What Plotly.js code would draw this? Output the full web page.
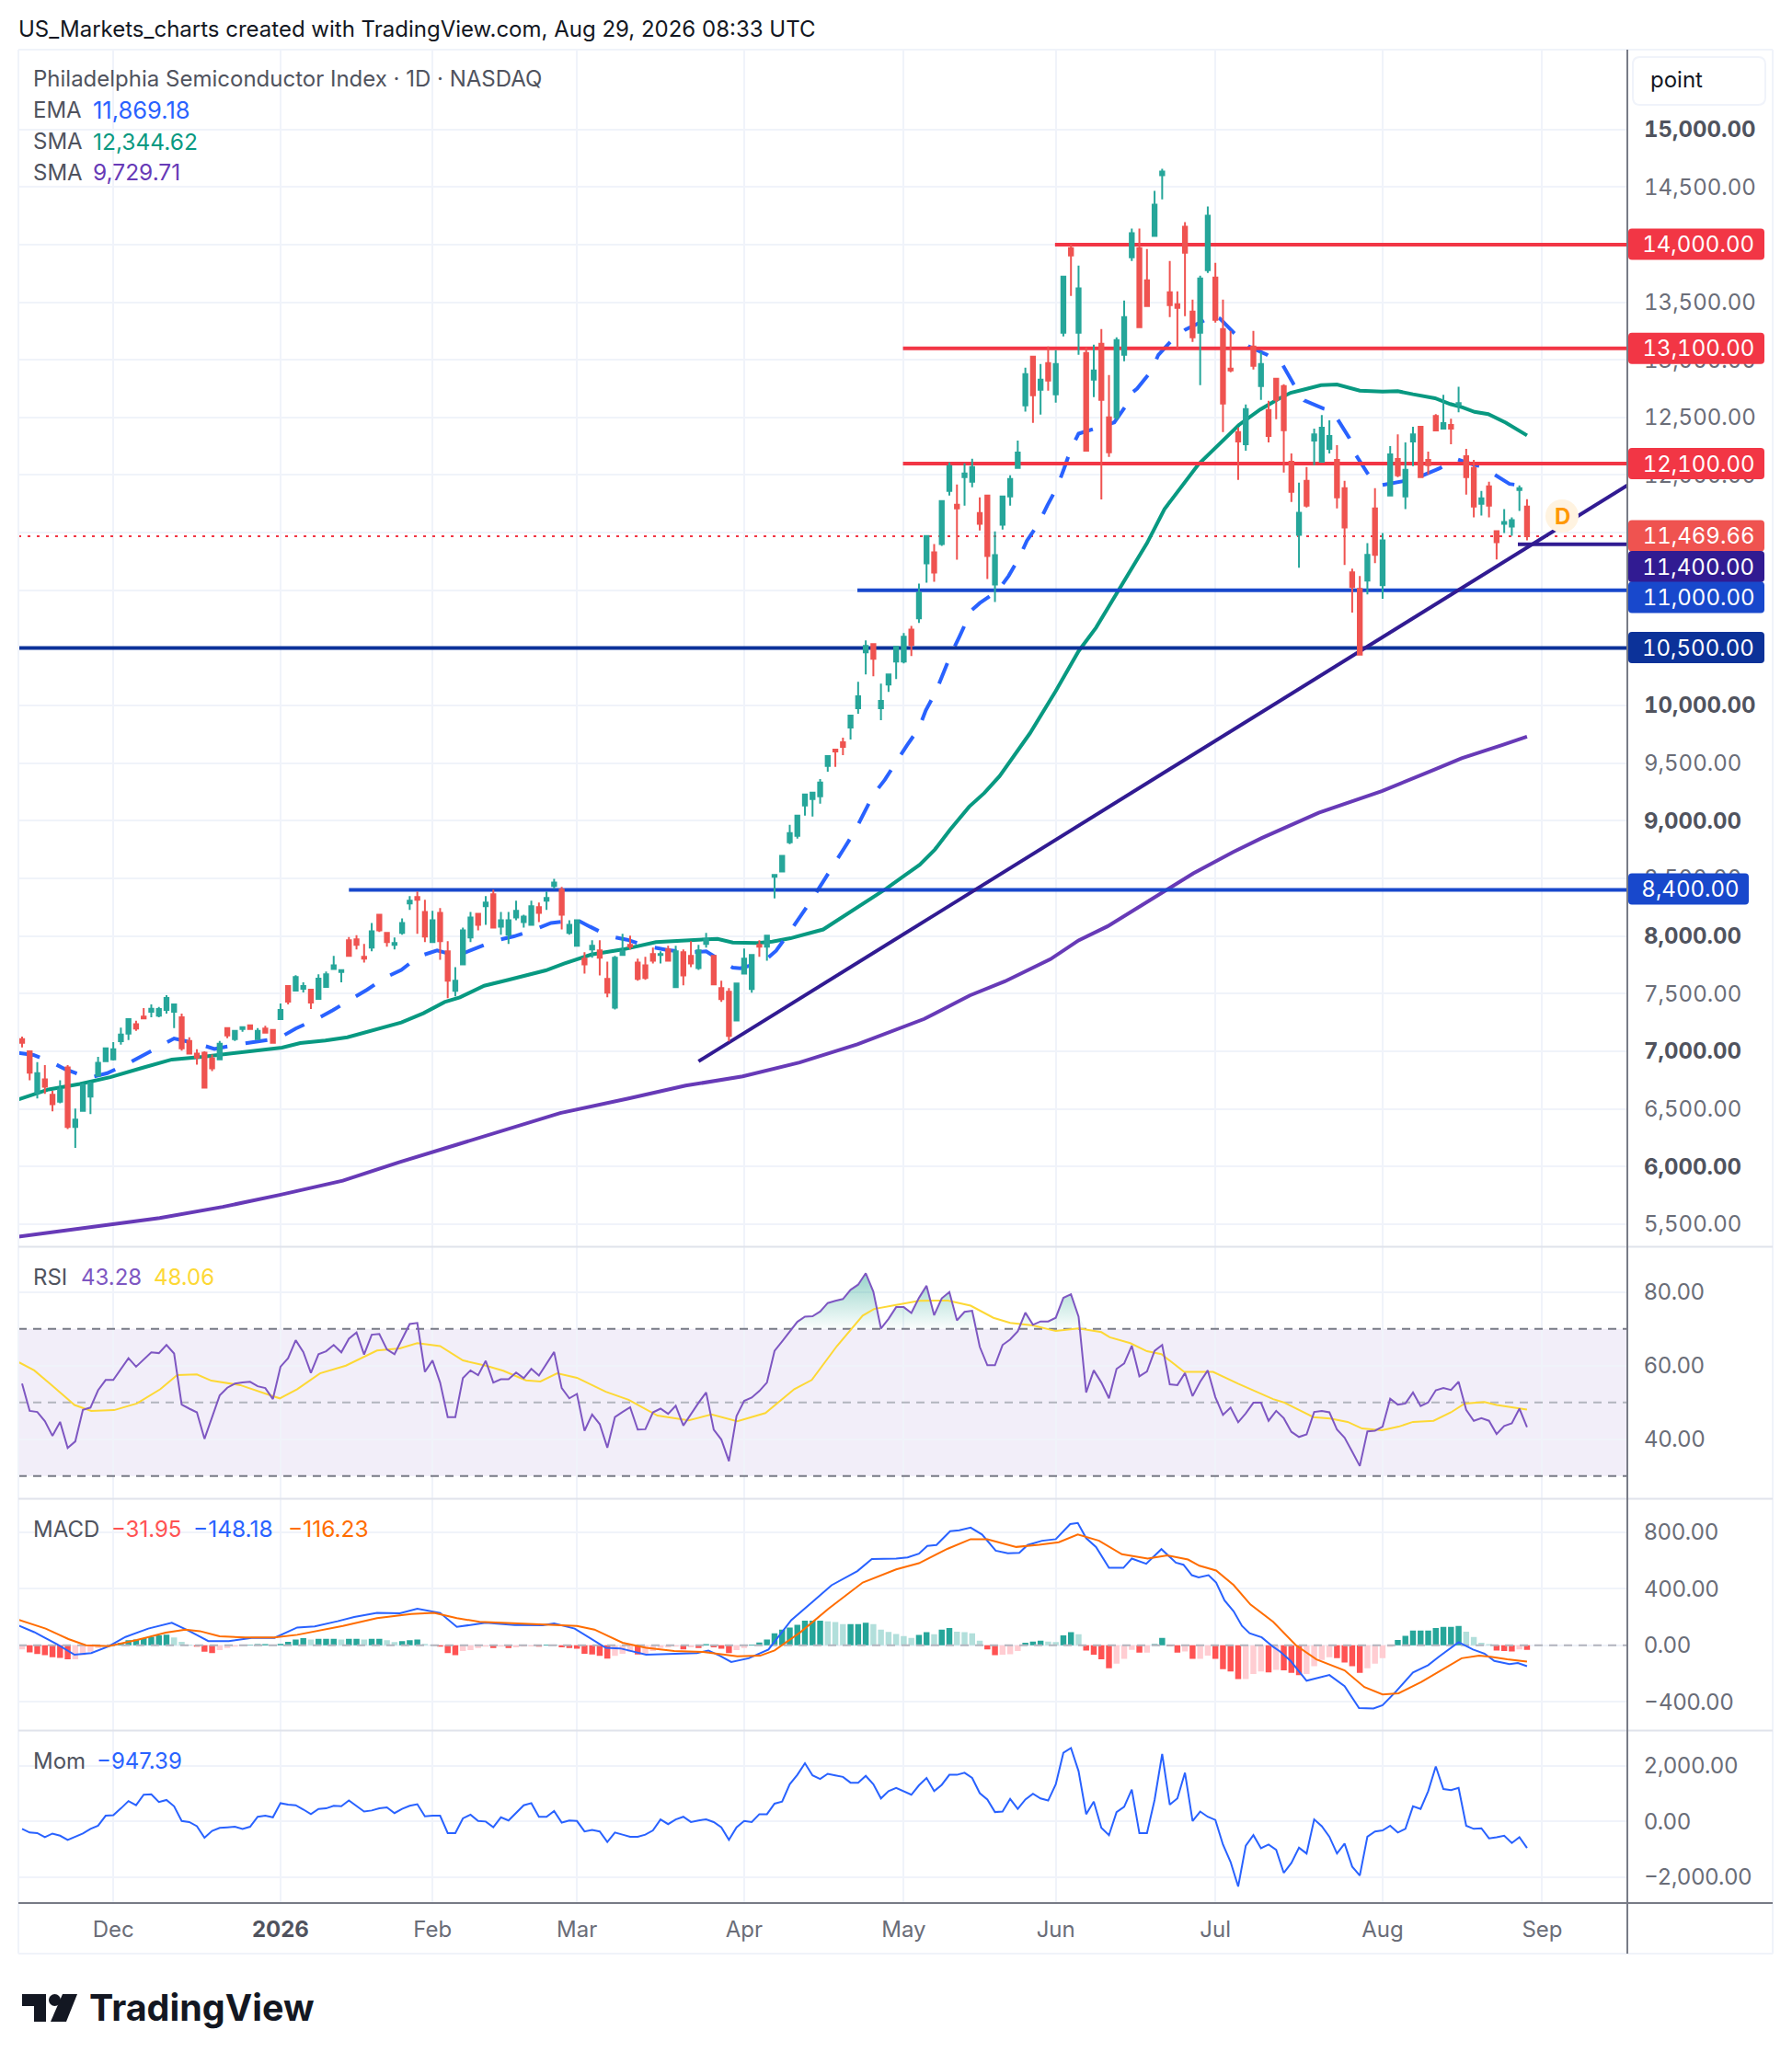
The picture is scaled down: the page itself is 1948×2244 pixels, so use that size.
<!DOCTYPE html>
<html><head><meta charset="utf-8">
<script src="https://cdn.plot.ly/plotly-3.0.1.min.js"></script>
<style>html,body{margin:0;padding:0;background:#fff}
.ytick text,.xtick text,.annotation[data-index="0"] text,.annotation[data-index="1"] text,.annotation[data-index="2"] text,.annotation[data-index="3"] text,.annotation[data-index="4"] text,.annotation[data-index="5"] text,.annotation[data-index="6"] text,.annotation[data-index="7"] text{font-variant-numeric:tabular-nums !important;font-feature-settings:"tnum" 1 !important}
</style></head>
<body><div id="chart" style="width:1948px;height:2244px"></div>
<script>
const open=[7106,7000,6638,6757,6622,6563,6860,6344,6484,6606,6788,6915,6931,7087,7153,7235,7302,7344,7310,7360,7344,7296,7090,6979,6987,6939,6931,7201,7106,7193,7225,7106,7198,7185,7280,7566,7526,7542,7534,7455,7558,7715,7689,
7963,7971,7819,7899,8186,8027,7923,8027,8282,8338,8210,7947,8202,7867,7524,7755,7987,8194,8258,8362,8082,8011,8162,8122,8098,8250,8306,8434,8402,8027,7915,7803,7883,7875,7628,7380,7835,7923,7771,7747,7843,7835,7883,7556,7859,7827,7723,7931,7827,7548,7516,7268,7675,7540,7923,7907,
8515,8560,8814,8870,9133,9188,9212,9475,9618,9682,9809,9976,10462,10533,9976,10183,10382,10382,10660,10756,11233,11329,11401,11862,11743,11981,11942,11671,11822,11050,11568,11814,12061,
12604,13027,12740,12971,12700,13235,13970,13235,13059,12828,13139,12500,12500,13043,13890,13970,13690,14074,14601,13587,13483,14154,13419,13235,13778,13714,13267,12923,12372,12268,13115,12772,12564,12836,12772,
12116,11481,11950,12299,12116,12227,12132,11886,11156,11013,11084,11711,11045,11823,12140,11815,12291,12418,12132,12513,12402,12434,12608,12164,12061,11751,11902,11513,11577,11553,11870,11727];
const close=[7074,6815,6810,6693,6542,6669,6344,6407,6709,6722,6900,7026,7018,7146,7280,7198,7286,7370,7368,7463,7407,7026,6979,6947,6685,6852,7066,7138,7177,7209,7193,7177,7161,7074,7360,7431,7645,7566,7423,7630,7669,7747,7705,
7827,7923,7803,8042,8050,7947,7939,8114,8306,8314,7995,8138,7955,7612,7612,8050,8162,8098,8290,8074,8138,8138,8218,8170,8258,8202,8330,8465,8186,8098,8138,7755,7915,7811,7508,7811,7867,7907,7628,7636,7787,7843,7787,7867,7659,7763,7875,7971,7580,7452,7133,7588,7803,7835,7907,8003,
8530,8695,8894,9045,9228,9244,9332,9562,9602,9642,9912,10080,10517,10406,10040,10271,10509,10597,10525,10979,11472,11154,11775,12077,11711,12013,12069,11576,11297,11305,11814,11966,12196,
12876,12692,12828,12820,12963,13722,13906,13619,12212,12907,12652,12197,13171,13371,14098,13283,13467,14346,14633,13475,13451,13930,13195,13706,14250,13347,12620,12907,12292,12572,12947,12963,12340,12652,12388,
11854,11672,11735,12354,12410,12339,11807,11545,11029,10441,11307,11307,11434,12180,11997,12045,12354,11981,12085,12386,12450,12402,12624,11981,11727,11799,11735,11418,11592,11608,11886,11469.66];
const high=[7127,7000,6907,6881,6656,6749,6881,6503,6722,6735,6952,7026,7079,7206,7280,7265,7376,7407,7384,7487,7415,7328,7122,7018,7000,6971,7090,7201,7185,7209,7233,7201,7222,7193,7415,7574,7661,7598,7542,7669,7693,7827,7705,
7992,8008,7931,8114,8186,8035,7987,8154,8346,8386,8314,8218,8242,7955,7731,8074,8210,8202,8346,8402,8210,8210,8306,8186,8306,8290,8386,8497,8426,8138,8146,7859,7963,7963,7779,7827,8019,8003,7803,7819,7899,7867,7915,7915,7883,7955,7923,8027,7835,7612,7548,7588,7891,7843,7963,8011,
8530,8700,8966,9053,9228,9252,9363,9562,9618,9721,9920,10207,10565,10541,10191,10279,10517,10629,10692,11058,11472,11401,11775,12109,11918,12101,12141,11806,11822,11512,11814,11997,12300,
12931,13035,12963,13115,13083,13730,14002,13818,13107,13131,13267,12868,13195,13515,14138,14138,13962,14465,14657,13858,13595,14194,13523,13730,14330,13842,13523,13251,12412,12612,13251,13067,12644,12844,12788,
12188,11934,12069,12402,12521,12474,12259,11950,11188,11124,11410,11886,11497,12251,12354,12283,12418,12426,12204,12529,12696,12489,12767,12227,12132,11862,11942,11513,11704,11632,11910,11791];
const low=[7034,6749,6590,6630,6479,6550,6325,6161,6479,6455,6783,6910,6921,7058,7098,7177,7283,7296,7296,7328,7201,7005,6974,6884,6677,6828,6931,7114,7090,7169,7185,7098,7161,7074,7280,7407,7519,7511,7368,7455,7558,7715,7598,
7827,7883,7771,7867,8035,7907,7883,8011,8226,8019,7947,7947,7795,7460,7476,7755,7947,8050,8098,8074,8011,7931,8138,8074,8098,8122,8226,8410,8058,8011,7907,7675,7811,7659,7468,7364,7835,7883,7612,7620,7763,7763,7787,7548,7572,7731,7707,7899,7580,7428,7085,7268,7675,7508,7819,7787,
8326,8552,8798,8846,9045,9037,9148,9427,9467,9570,9706,9928,10271,10255,9873,10119,10231,10366,10430,10716,11066,11074,11385,11822,11265,11735,11894,11520,11098,10899,11528,11735,12061,
12551,12452,12524,12732,12628,13203,13555,13043,12212,12676,11789,12157,12476,12987,13858,13283,13467,14066,14393,13371,13099,13379,13155,12780,13754,13323,12372,12892,11957,12212,12915,12652,12284,12484,12021,
11767,11196,11719,12085,12108,12188,11711,11219,10807,10441,10965,11235,10926,11823,11981,11704,12077,11981,12005,12378,12394,12267,12545,11831,11632,11648,11632,11267,11497,11473,11688,11434];

const emaX=[-0.5,1.5,4,5.6,8.8,11.2,13.8,16,18.5,20,23.5,25.3,28.6,31.2,33.8,36,38.6,40.9,43.3,45.4,47.7,49.9,52.2,54.6,57.2,59.5,62.2,64.7,67.3,69.6,72.1,73.1,74.7,77.2,79.6,82.2,84.8,87.7,90,92.4,93.5,94.5,97.5,99.2,100.9,104,105.3,106.8,108.1,109.6,110.7,112,113.5,115,116.4,118,118.9,120.2,121.2,122.2,123.3,124.5,124.9,126,128.4,129.8,131.2,132.2,133.8,134.9,136.2,137.1,138,139,142,143.7,145.4,146,146.7,148.5,149.5,151.3,153.1,155.6,156.4,157.6,159.5,161.3,163.8,165.9,167.3,168.7,171.2,172.2,173.1,174.6,175.5,177,177.8,178.9,181.7,182.7,183.9,186.5,188.7,191.1,192.2,193.4,195.7,196.8,198];
const emaY=[6987,6968,6902,6847,6770,6810,6889,6968,7053,7111,7058,7021,7061,7090,7114,7198,7275,7357,7450,7535,7638,7706,7824,7875,7828,7890,7960,7997,8053,8114,8133,8138,8082,8000,7968,7912,7880,7859,7867,7774,7726,7721,7774,7872,8027,8326,8459,8618,8756,8915,9056,9228,9355,9512,9653,9804,9958,10117,10276,10443,10594,10761,10825,10889,10997,11125,11284,11430,11587,11738,11898,12058,12226,12359,12418,12457,12617,12713,12750,12897,13043,13171,13264,13344,13398,13358,13230,13118,13043,12950,12788,12648,12577,12561,12481,12323,12172,12018,11955,11913,11947,11979,11987,12058,12140,12087,12074,12018,11923,11913,11869];
const sma50X=[-0.5,3.5,7.6,11.6,15.7,19.7,23.7,27.8,31.8,34.2,36.6,39.9,42.8,45.7,49.9,52.8,55.6,57.6,60.8,64,68.9,71.3,74.9,79,83.4,86.7,90.3,91.5,93.5,96.7,98.7,101.1,105.4,109.9,113.7,116.1,118.1,120.1,122.1,124.6,126.6,128.6,130.2,132.6,136,139,141.3,144.3,148,150.3,154.8,160.1,162.9,165.3,166.9,168.9,170.9,173,174.6,176,179,181,183,185.9,187.9,189.5,191.1,192.9,195.2,196.4,198];
const sma50Y=[6582,6669,6717,6775,6854,6929,6952,6984,7019,7032,7071,7093,7122,7172,7250,7330,7428,7468,7569,7620,7702,7761,7840,7883,7947,7960,7973,7976,7944,7939,7952,7981,8057,8250,8411,8525,8618,8751,8923,9122,9241,9387,9533,9759,10126,10472,10676,11002,11409,11704,12096,12435,12569,12661,12714,12746,12780,12786,12762,12733,12725,12728,12701,12667,12616,12587,12548,12529,12455,12405,12344];
const sma200X=[-0.5,6.9,12.1,18.1,26.4,33.9,42.2,49.7,57.2,64.7,70.8,79.8,87.3,94.8,102.3,109.9,115,118.7,124.7,129.3,135.3,139,142.8,148,154.1,159.3,163.1,170.6,175.1,178.9,185.7,189.4,194.7,198];
const sma200Y=[5392,5453,5496,5553,5650,5754,5878,6039,6190,6340,6464,6591,6702,6782,6903,7060,7188,7281,7485,7607,7799,7962,8084,8292,8544,8728,8850,9070,9176,9258,9441,9543,9657,9730];

const levelValues=[14000,13100,12100,11000,10500,8400,11400];
const levelStarts=[135.9,115.9,115.9,109.9,-0.5,43,196.8];
const levelColors=['#f23645','#f23645','#f23645','#1848cc','#0c3299','#1848cc','#311b92'];
const trendX=[89,211.2];
const trendY=[6913,11910];
const lastPrice=11469.66;

const rsi=[55.1,47.7,47.4,44.9,40.9,44.7,37.6,39.4,48,48.6,53.3,56.1,56.1,59,62,59.7,61.6,63.6,63.4,65.6,63.3,49.4,48.3,47.3,40.1,46.1,51.9,54,55.1,55.4,55.6,54.4,53.9,50.9,59.7,62,66.9,63.7,58,63.1,63.9,65.6,63.6,67.3,69,63,68.4,68.6,64.4,63.1,67.3,71.3,71.6,58.3,61.4,55.4,46,46,56.6,58.7,57.4,61.3,55.4,56.3,56.3,58.1,56.6,59.1,57.3,60.6,63.7,53.9,51.1,52.3,42.3,46.7,44.1,37.7,46,47.4,48.7,42.6,42.7,47.3,48.3,46.9,49.1,43.7,46.9,49.9,52.7,42.6,39.9,34,46.3,50.4,51.3,53.1,55.4,64,66.6,69.4,71.9,73.3,73.4,74.7,77,77.6,78.1,80.6,82,85.1,80.1,70.1,72.7,75.9,75.9,74.3,78.4,81.7,73.7,78.3,80,72.3,74.6,74.9,65.1,60.1,60.1,65.6,67.1,69.3,74.4,71.1,72,72,73,78.4,79.4,73.3,52.7,58.7,55.4,51.1,59.1,60.6,65.4,57.1,58.4,64,65.6,54.9,54.7,58,51.7,55.6,58.7,51.4,46.6,48.6,44.6,47,49.9,49.9,45,47.7,45.7,42,40.6,41.3,47.4,47.7,47.3,42.6,40.4,36.6,32.7,42.1,42.3,43.4,51,49.4,49.7,52.7,49,50,53.3,53.9,53.4,55.6,48,45,45.7,45,41.4,43.6,44.3,48.3,43.28];
const rsiMaX=[-0.5,1.6,3.9,6.9,9.1,12.1,15.1,18.2,20.4,23,24.9,28.7,32.4,33.9,36.2,39.2,42.6,46.7,49.7,52,55,58,61,63.3,66.3,68.2,70.4,73,76.8,79.8,83.6,87.7,90.7,94.1,97.8,101.6,103.9,107.2,110.6,112.1,115,118,121.8,124.8,127.8,130,133,136,139,142,143.1,145.8,148,149.9,152.9,156.7,160,161.9,164.6,166,169.9,172.1,174.4,176.3,178.9,181.1,183,185.7,188,189.8,192.4,194,198];
const rsiMaY=[61,58.7,54.7,49.3,47.7,47.9,49.7,53.6,57.4,57.6,55.9,54.7,52.1,51.1,53.6,57.9,60,64.1,64.7,66.1,65.3,61.4,60,58.6,56,55.7,57.9,56.7,52.9,50.7,46.4,45.1,46.7,44.9,47.1,53.6,56.1,65.3,73.6,75.4,76.5,77.6,77.7,76.3,73,71.6,70.9,69.4,70.1,69.1,67.7,66.1,63.9,63.1,58.3,58.3,55.1,53.4,50.9,50,46,45.6,44.7,42.9,42.4,43.4,44.7,45,47.3,49.7,50.1,49.3,48.06];

const macdHist=[-30,-50,-62,-70,-85,-90,-100,-100,-70,-45,-20,-5,5,18,35,40,50,60,70,75,55,25,5,-10,-45,-55,-35,-20,-10,-5,3,8,8,5,10,25,40,50,40,45,45,45,40,45,45,40,45,45,35,22,30,35,40,10,5,-10,-55,-70,-40,-35,-20,-10,-20,-10,-20,-15,-10,-8,-10,5,5,-15,-20,-25,-60,-65,-75,-95,-75,-60,-45,-65,-60,-40,-20,-15,-10,-30,-15,-20,8,-15,-25,-55,-35,-20,5,20,40,85,110,125,145,174,174,174,170,165,150,150,150,160,150,110,95,80,65,52,74,92,78,111,122,96,92,85,33,-30,-70,-67,-63,-40,18,26,33,26,22,70,92,78,-37,-67,-100,-163,-130,-96,-33,-52,-52,8,52,-7,-52,-44,-96,-96,-74,-96,-170,-185,-240,-240,-204,-185,-192,-174,-178,-196,-211,-204,-148,-104,-85,-92,-122,-148,-196,-163,-130,-92,-11,37,67,104,104,104,122,130,130,137,96,59,18,8,-37,-40,-44,-30,-31.95];
const macdX=[-0.5,1.6,4.6,6.9,9.1,11.4,13.6,16.6,19.7,21.9,24.5,27.2,30.2,33.2,36.2,38.5,41.5,43.7,46.7,49.7,52,55,57.2,61,64.8,68.5,70,72.7,76.8,78.7,82.1,85.8,88.8,90.3,91.8,93.3,95.6,98.2,101.2,103.9,106.5,109.9,111.8,115,116.5,118,119.1,120.3,122.1,123.3,124.8,126.3,128.1,129.7,131.2,132.3,134.2,136,137.9,138.9,140,141.3,143,144.9,146,147.9,149.9,151.8,152.8,153.9,154.8,156.1,157.1,158.2,159.4,160.5,161.5,163.1,164.6,165.5,166.9,169,170.3,172,174,175.9,177.8,179,180.8,183,185,186.4,189,190.9,192.4,193.7,195.7,196.8,198];
const macdY=[141,93,7,-67,-55,-7,59,118,159,104,30,30,52,52,126,133,170,200,229,226,259,229,130,159,144,141,155,118,-18,-22,-67,-59,-55,-37,-74,-118,-92,-30,178,303,425,525,610,614,622,648,703,710,807,814,833,784,670,651,655,710,740,751,858,866,758,695,548,548,614,577,681,585,570,496,481,496,444,318,241,137,85,56,-11,-44,-111,-251,-233,-211,-289,-444,-448,-425,-325,-192,-141,-81,22,-30,-59,-111,-133,-126,-148.18];
const signalX=[-0.5,3.1,6.1,8.4,11.4,15.1,18.9,21.5,23.4,26,29.4,33.2,36.2,42.2,46.7,51.2,54.2,57.2,60.2,64.8,69.3,73,75.3,79,82.1,85.8,89.6,94.1,97.1,99,102.4,106.1,110.6,115,118,121.8,124.8,127,130.8,133.8,136.4,138.9,141.7,144.7,148.1,150.7,153.4,154.9,157.1,159.4,161.6,164.6,167.6,170.3,174,176.6,179,181.1,184.1,187.1,189.4,191.7,193.2,195.4,198];
const signalY=[181,118,44,0,-7,37,89,111,100,63,55,55,74,137,192,222,229,192,166,155,148,137,111,18,-18,-41,-48,-78,-74,-37,92,259,444,537,581,684,751,751,696,711,729,784,740,644,614,636,607,563,529,426,289,166,0,-100,-178,-296,-348,-340,-259,-166,-92,-74,-81,-100,-116.23];

const mom=[-263,-395,-414,-564,-432,-508,-658,-545,-432,-263,-150,207,226,470,733,583,959,978,696,771,545,19,-19,-169,-583,-338,-226,-207,-188,-263,-188,169,207,150,658,602,583,432,263,451,470,564,545,752,545,357,395,470,508,301,451,564,620,188,207,207,-414,-414,113,244,19,0,-207,150,38,301,583,658,169,169,376,-38,38,19,-357,-301,-357,-733,-395,-470,-545,-545,-470,-320,75,-94,75,169,-19,38,75,-19,-207,-658,-207,19,-19,263,263,639,714,1335,1673,2087,1654,1523,1711,1654,1598,1391,1391,1636,1335,827,1090,1203,1090,959,1297,1560,1090,1316,1673,1673,1748,1560,1015,790,338,357,808,451,790,996,827,752,1335,2463,2632,1805,263,714,-226,-489,338,526,1147,-414,-414,771,2425,602,827,1748,19,357,169,56,-827,-1448,-2331,-865,-489,-959,-827,-1015,-1842,-1485,-940,-1147,75,-169,-545,-1147,-790,-1617,-1936,-545,-357,-320,-150,-395,-263,545,451,1090,1974,1166,1128,1203,-150,-263,-244,-602,-564,-508,-771,-564,-947.39];

const monthTicks=[12,34,54,73,95,116,136,157,179,200];
const monthLabels=['Dec','<b><span style="color:#50535e">2026</span></b>','Feb','Mar','Apr','May','Jun','Jul','Aug','Sep'];
const priceTicks=[5500,6000,6500,7000,7500,8000,8500,9000,9500,10000,10500,11000,11500,12000,12500,13000,13500,14000,14500,15000];
const boldTicks=[6000,7000,8000,9000,10000,15000];
const coveredTicks=[10500,11000,11500,14000];
const rsiTicks=[40,60,80];
const macdTicks=[-400,0,400,800];
const momTicks=[-2000,0,2000];
const axisRight=211.2, axisLeft=-0.484;

const bars=open.map((_,i)=>i);
const fmt=v=>(v<0?'\u2212':'')+Math.abs(v).toLocaleString('en-US',{minimumFractionDigits:2,maximumFractionDigits:2});
const fx=p=>p/1948, fy=p=>1-p/2244;
const UP='#26a69a',DOWN='#ef5350',GRID='#f0f3fa',SEP='#e0e3eb',AX='#787b86';
const FONT='Inter, sans-serif';

const traces=[];
traces.push({x:[axisLeft,axisRight],y:[lastPrice,lastPrice],xaxis:'x',yaxis:'y',mode:'lines',line:{color:'#f23645',width:2,dash:'3px,7px'}});
traces.push({x:sma200X,y:sma200Y,xaxis:'x',yaxis:'y',mode:'lines',line:{color:'#673ab7',width:4}});
traces.push({x:sma50X,y:sma50Y,xaxis:'x',yaxis:'y',mode:'lines',line:{color:'#089981',width:4}});
traces.push({x:emaX,y:emaY,xaxis:'x',yaxis:'y',mode:'lines',line:{color:'#2962ff',width:4,dash:'24px,20px'}});
levelValues.forEach((v,k)=>traces.push({x:[levelStarts[k],axisRight],y:[v,v],xaxis:'x',yaxis:'y',mode:'lines',line:{color:levelColors[k],width:4}}));
traces.push({x:trendX,y:trendY,xaxis:'x',yaxis:'y',mode:'lines',line:{color:'#311b92',width:4}});
traces.push({type:'candlestick',x:bars,open:open,high:high,low:low,close:close,xaxis:'x5',yaxis:'y5',
  increasing:{line:{color:UP,width:2},fillcolor:UP},decreasing:{line:{color:DOWN,width:2},fillcolor:DOWN},whiskerwidth:0});
const obIdx=bars.filter(i=>i>=99&&i<=140);
traces.push({x:obIdx,y:obIdx.map(()=>70),xaxis:'x2',yaxis:'y2',mode:'lines',line:{width:0,color:'rgba(0,0,0,0)'}});
traces.push({x:obIdx,y:obIdx.map(i=>Math.max(rsi[i],70)),xaxis:'x2',yaxis:'y2',mode:'lines',line:{width:0,color:'rgba(0,0,0,0)'},fill:'tonexty',
  fillgradient:{type:'vertical',colorscale:[[0,'rgba(8,153,129,0.02)'],[1,'rgba(8,153,129,0.42)']]}});
[[70,AX],[30,AX],[50,'#b2b5be']].forEach(l=>traces.push({x:[axisLeft,axisRight],y:[l[0],l[0]],xaxis:'x2',yaxis:'y2',mode:'lines',line:{color:l[1],width:2,dash:'9px,7px'}}));
traces.push({x:rsiMaX,y:rsiMaY,xaxis:'x2',yaxis:'y2',mode:'lines',line:{color:'#fdd835',width:2}});
traces.push({x:bars,y:rsi,xaxis:'x2',yaxis:'y2',mode:'lines',line:{color:'#7e57c2',width:2}});
const histColor=macdHist.map((h,i)=>{const p=i?macdHist[i-1]:h;return h>=0?(h>=p?'#26a69a':'#b2dfdb'):(h<p?'#ff5252':'#ffcdd2')});
traces.push({x:[axisLeft,axisRight],y:[0,0],xaxis:'x3',yaxis:'y3',mode:'lines',line:{color:'#b2b5be',width:2,dash:'9px,7px'}});
traces.push({type:'bar',x:bars,y:macdHist,xaxis:'x3',yaxis:'y3',marker:{color:histColor,line:{width:0}}});
traces.push({x:macdX,y:macdY,xaxis:'x3',yaxis:'y3',mode:'lines',line:{color:'#2962ff',width:2}});
traces.push({x:signalX,y:signalY,xaxis:'x3',yaxis:'y3',mode:'lines',line:{color:'#ff6d00',width:2}});
traces.push({x:bars,y:mom,xaxis:'x4',yaxis:'y4',mode:'lines',line:{color:'#2962ff',width:2}});

const xBase=a=>Object.assign({domain:[fx(20),fx(1769)],range:[axisLeft,axisRight],type:'linear',tickmode:'array',tickvals:monthTicks,ticktext:monthLabels,
  showgrid:true,gridcolor:GRID,gridwidth:2,zeroline:false,showline:false,ticks:'',showticklabels:false,fixedrange:true,
  rangeslider:{visible:false},tickfont:{family:FONT,size:24,color:'#6a6d78'}},a);
const yBase=(dom,rng,tv,tt,a)=>Object.assign({domain:[fy(dom[1]),fy(dom[0])],range:rng,type:'linear',side:'right',tickmode:'array',tickvals:tv,ticktext:tt,
  showgrid:true,gridcolor:GRID,gridwidth:2,zeroline:false,showline:false,ticks:'',ticklabelstandoff:17,fixedrange:true,
  tickfont:{family:FONT,size:24,color:'#6a6d78'}},a);

function rbox(x0,y0,x1,y1,r){
  const X=fx,Y=fy;
  return `M${X(x0+r)},${Y(y0)}L${X(x1-r)},${Y(y0)}Q${X(x1)},${Y(y0)} ${X(x1)},${Y(y0+r)}L${X(x1)},${Y(y1-r)}Q${X(x1)},${Y(y1)} ${X(x1-r)},${Y(y1)}L${X(x0+r)},${Y(y1)}Q${X(x0)},${Y(y1)} ${X(x0)},${Y(y1-r)}L${X(x0)},${Y(y0+r)}Q${X(x0)},${Y(y0)} ${X(x0+r)},${Y(y0)}Z`;
}
function poly(pts){return 'M'+pts.map(p=>fx(p[0])+','+fy(p[1])).join('L')+'Z';}
const pshape=(path,fill,line)=>({type:'path',xref:'paper',yref:'paper',path:path,fillcolor:fill,line:{color:line||fill,width:line?2:0},layer:'above'});
const pline=(x0,y0,x1,y1,c,w)=>({type:'line',xref:'paper',yref:'paper',x0:fx(x0),y0:fy(y0),x1:fx(x1),y1:fy(y1),line:{color:c,width:w||2},layer:'above'});

const shapes=[
 {type:'rect',xref:'paper',yref:'y2',x0:fx(20),x1:fx(1769),y0:30,y1:70,fillcolor:'rgba(126,87,194,0.1)',line:{width:0},layer:'below'},
 pline(20,54,1927,54,GRID), pline(20,54,20,2124,GRID), pline(1927,54,1927,2124,GRID), pline(20,2124,1927,2124,GRID),
 pline(20,1355.5,1927,1355.5,SEP), pline(20,1629.5,1927,1629.5,SEP), pline(20,1881.5,1927,1881.5,SEP),
 pline(20,2069,1927,2069,AX), pline(1769,54,1769,2124,AX),
 pshape(rbox(1775,62,1919,114,8),'#ffffff',GRID)
];
const anns=[];
const txt=(s,x,y,c,size,extra)=>anns.push(Object.assign({text:s,x:fx(x),y:fy(y),xref:'paper',yref:'paper',xanchor:'left',yanchor:'middle',showarrow:false,
   font:{family:FONT,size:size||24,color:c},borderpad:0},extra||{}));
const boxes=[[265.6,14000,'#f23645',1918,1846],[378.7,13100,'#f23645',1918,1846],[504,12100,'#f23645',1918,1846],[582.5,lastPrice,'#ef5350',1918,1846],[616,11400,'#311b92',1918,1846],[649.6,11000,'#1848cc',1918,1846],[704,10500,'#0c3299',1918,1846],[966.5,8400,'#1848cc',1901,1837.6]];
boxes.forEach(b=>{shapes.push(pshape(rbox(1770,b[0]-17,b[3],b[0]+17,4),b[2]));txt(fmt(b[1]),b[4],b[0],'#ffffff',24,{xanchor:'center'});});
txt('point',1792.5,86.5,'#131722');
shapes.push({type:'circle',xref:'paper',yref:'paper',x0:fx(1680),x1:fx(1716),y0:fy(543),y1:fy(579),fillcolor:'#fff3e0',line:{width:0},layer:'above'});
txt('<b>D</b>',1698,561,'#ff9800',24,{xanchor:'center'});
txt('US_Markets_charts created with TradingView.com, Aug 29, 2026 08:33 UTC',19,31.5,'#131722',24);
txt('Philadelphia Semiconductor Index \u00b7 1D \u00b7 NASDAQ',35,85.2,'#50535e');
txt('EMA',35,119.6,'#50535e');txt('11,869.18',99.5,119.6,'#2962ff',25.5);
txt('SMA',35,154,'#50535e');txt('12,344.62',99.7,154,'#089981',24.5);
txt('SMA',35,187.5,'#50535e');txt('9,729.71',99.7,187.5,'#673ab7',24.5);
txt('RSI',35,1388,'#50535e');txt('43.28',86.5,1388,'#7e57c2');txt('48.06',165.6,1388,'#fdd835');
txt('MACD',35,1662.4,'#50535e');txt('\u221231.95',119.6,1662.4,'#ff5252');txt('\u2212148.18',209,1662.4,'#2962ff',24.5);txt('\u2212116.23',311.5,1662.4,'#ff6d00',24.5);
txt('Mom',35,1914.4,'#50535e');txt('\u2212947.39',104.2,1914.4,'#2962ff');
shapes.push(pshape(poly([[24,2168],[50,2168],[50,2198],[37,2198],[37,2181],[24,2181]]),'#131722'));
shapes.push({type:'circle',xref:'paper',yref:'paper',x0:fx(53),x1:fx(66),y0:fy(2168),y1:fy(2181),fillcolor:'#131722',line:{width:0},layer:'above'});
shapes.push(pshape(poly([[68,2168],[84,2168],[72,2198],[55,2198]]),'#131722'));
txt('<b>TradingView</b>',96,2183,'#131722',39.5);

const layout={width:1948,height:2244,margin:{l:0,r:0,t:0,b:0,pad:0},autosize:false,showlegend:false,paper_bgcolor:'#fff',plot_bgcolor:'rgba(0,0,0,0)',
 hovermode:false,bargap:0.22,boxgap:0.25,dragmode:false,
 xaxis:xBase({anchor:'y'}),
 xaxis2:xBase({anchor:'y2'}),
 xaxis3:xBase({anchor:'y3'}),
 xaxis4:xBase({anchor:'y4',showticklabels:true,ticklabelstandoff:12,side:'bottom'}),
 xaxis5:xBase({anchor:'y5',overlaying:'x',showgrid:false,visible:false}),
 yaxis:yBase([54,1355.5],[5304,15691],priceTicks,priceTicks.map(v=>coveredTicks.includes(v)?' ':boldTicks.includes(v)?'<b><span style="color:#50535e">'+fmt(v)+'</span></b>':fmt(v)),{anchor:'x'}),
 yaxis2:yBase([1355.5,1629.5],[23.8,92.3],rsiTicks,rsiTicks.map(fmt),{anchor:'x2'}),
 yaxis3:yBase([1629.5,1881.5],[-604,1037],macdTicks,macdTicks.map(fmt),{anchor:'x3'}),
 yaxis4:yBase([1881.5,2069],[-2922,3259],momTicks,momTicks.map(fmt),{anchor:'x4'}),
 yaxis5:yBase([54,1355.5],[5304,15691],[],[],{anchor:'x5',overlaying:'y',showgrid:false,visible:false}),
 shapes:shapes,annotations:anns};
Plotly.newPlot('chart',traces,layout,{staticPlot:true,displayModeBar:false});
</script></body></html>
